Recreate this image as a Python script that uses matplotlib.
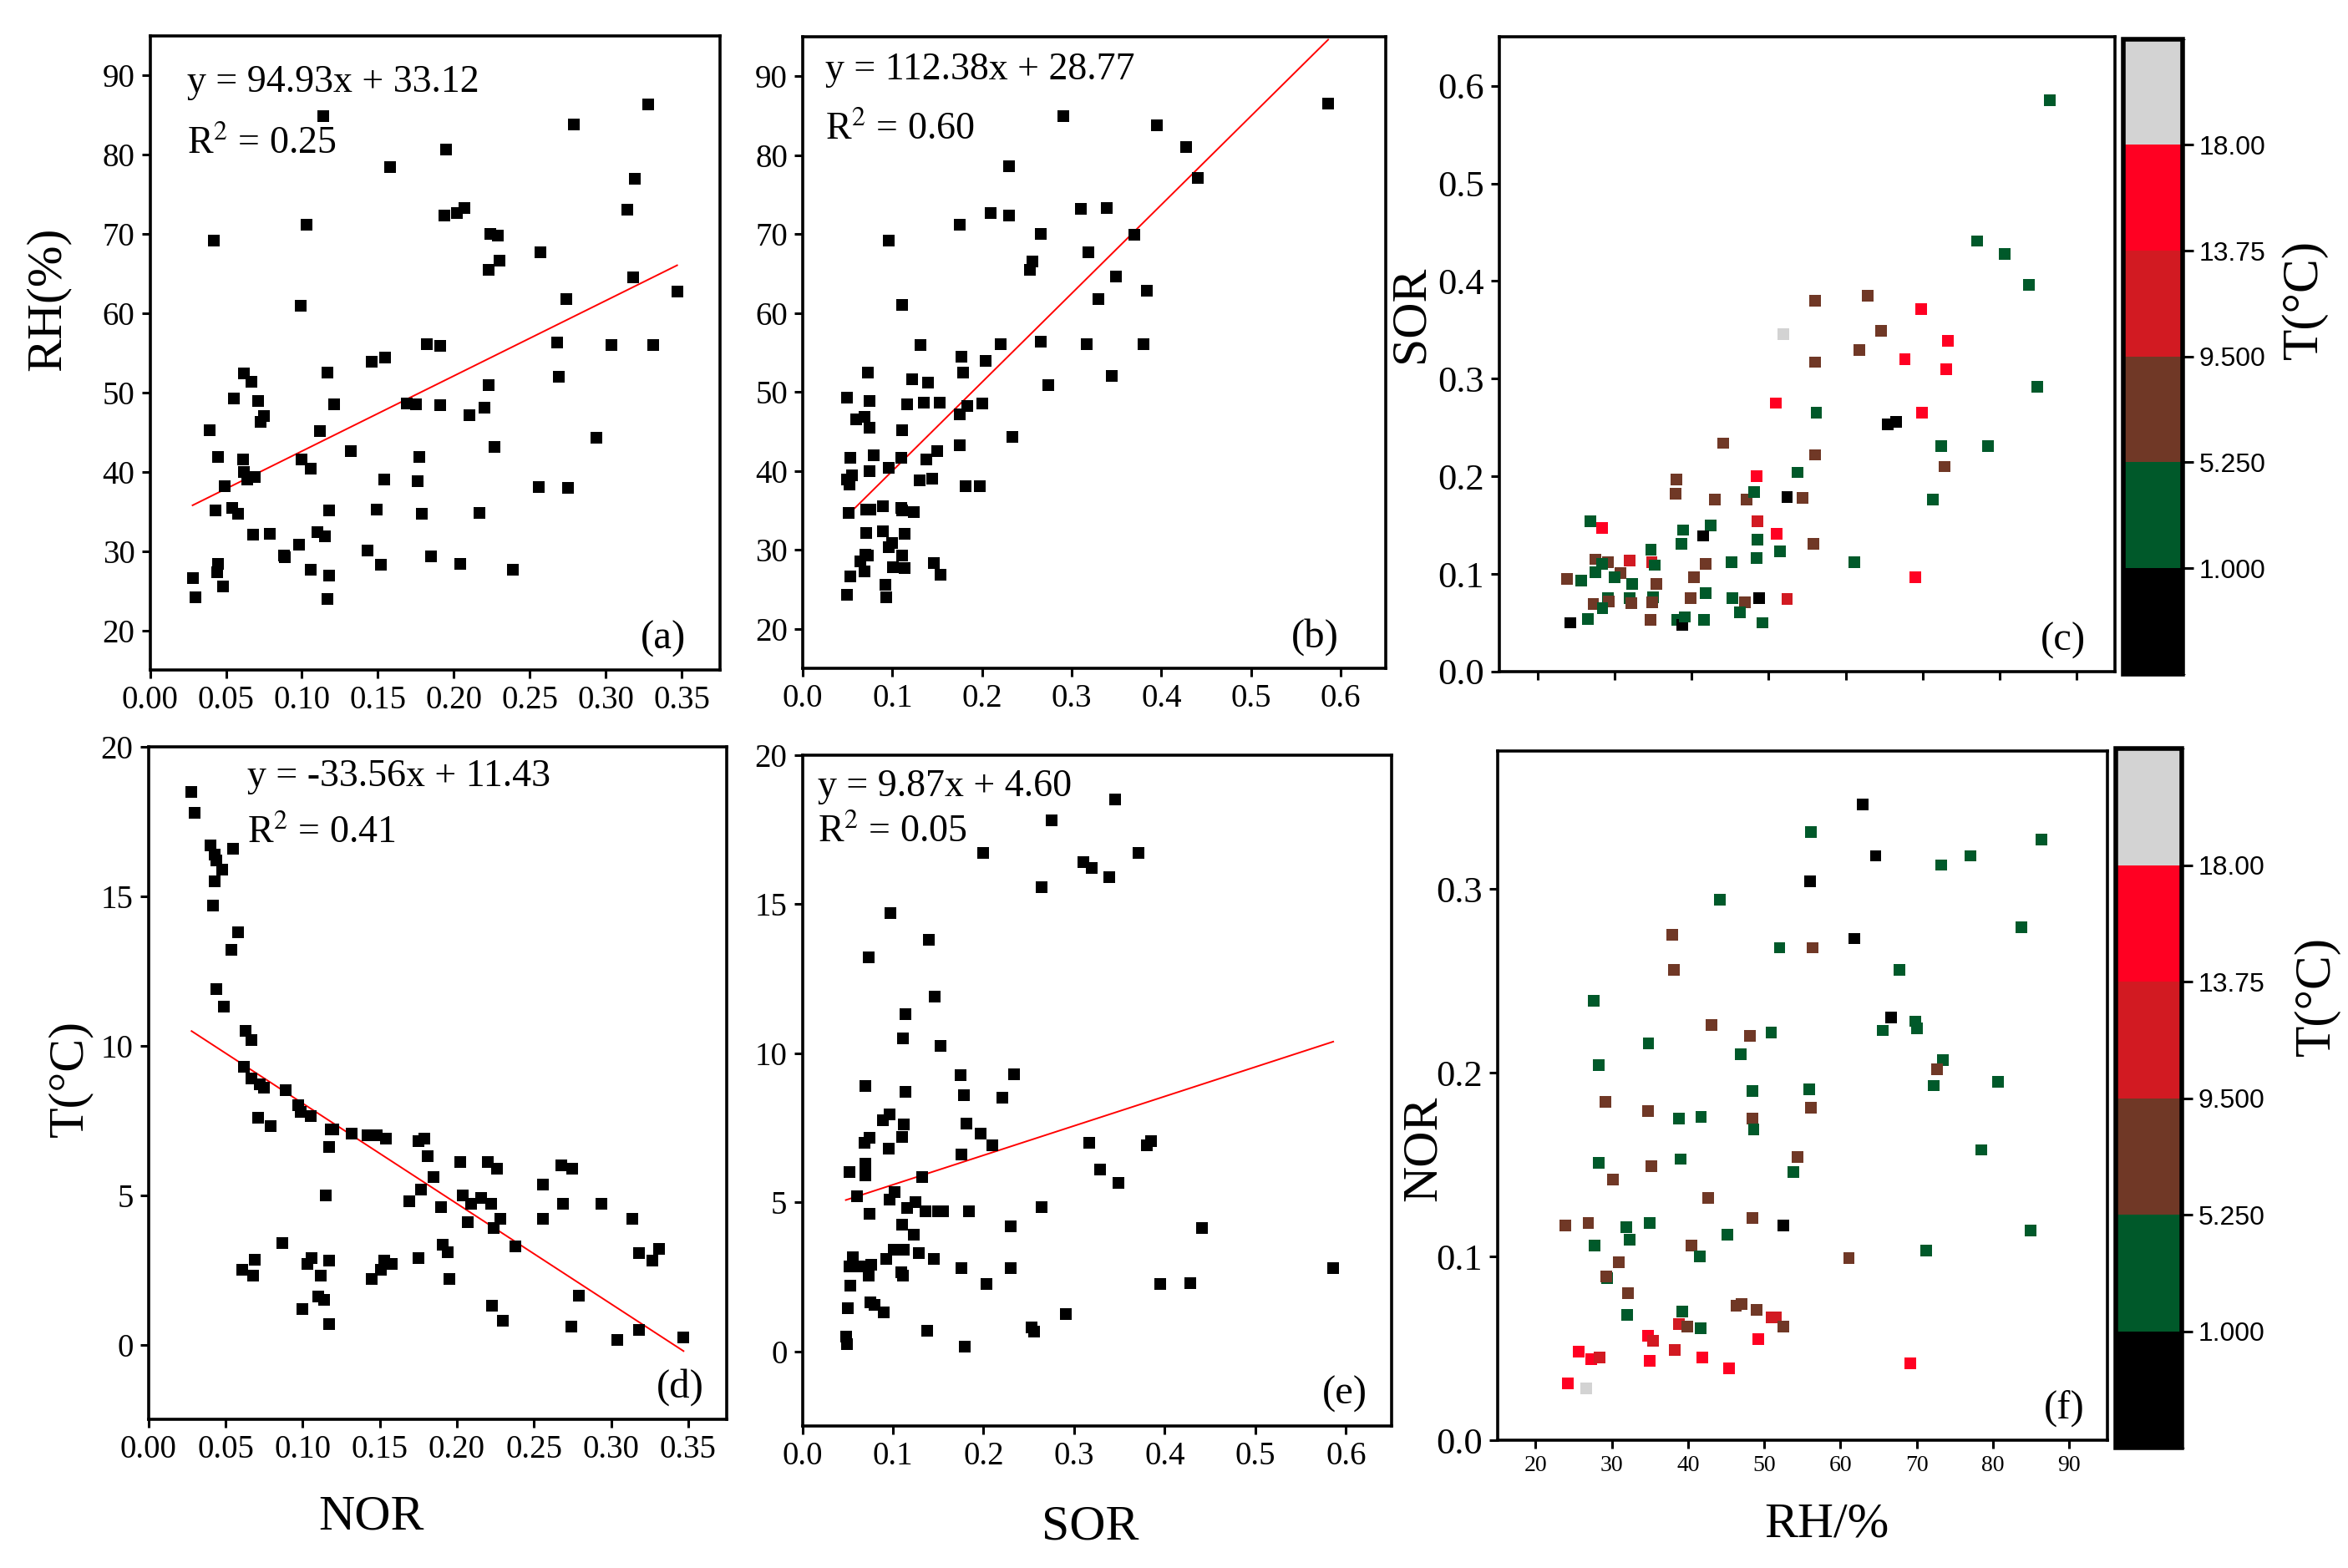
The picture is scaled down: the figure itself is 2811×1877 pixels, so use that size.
import matplotlib
matplotlib.use('Agg')
import matplotlib.pyplot as plt
import numpy as np
from matplotlib.colors import ListedColormap, BoundaryNorm
from matplotlib.cm import ScalarMappable

plt.rcParams['font.family'] = ['Liberation Serif', 'DejaVu Serif']
plt.rcParams['mathtext.fontset'] = 'stix'

# ---- panel (a): NOR vs RH
a_nor = [0.028, 0.030, 0.039, 0.042, 0.045, 0.043, 0.045, 0.044, 0.048, 0.049,
         0.055, 0.054, 0.058, 0.062, 0.067, 0.061, 0.062, 0.064, 0.069, 0.071,
         0.075, 0.073, 0.068, 0.079, 0.088, 0.089, 0.098, 0.099, 0.100, 0.103,
         0.106, 0.106, 0.112, 0.110, 0.114, 0.115, 0.117, 0.118, 0.118, 0.117,
         0.121, 0.132, 0.143, 0.146, 0.149, 0.152, 0.154, 0.155, 0.158, 0.169,
         0.175, 0.177, 0.176, 0.179, 0.182, 0.185, 0.191, 0.191, 0.194, 0.195,
         0.202, 0.207, 0.210, 0.204, 0.217, 0.220, 0.223, 0.223, 0.224, 0.229,
         0.230, 0.227, 0.239, 0.257, 0.256, 0.268, 0.269, 0.274, 0.275, 0.279,
         0.294, 0.304, 0.314, 0.319, 0.318, 0.328, 0.331, 0.347]
a_rh = [26.6, 24.2, 45.3, 69.2, 41.9, 35.1, 28.4, 27.3, 25.5, 38.2,
        49.3, 35.5, 34.7, 52.4, 51.4, 41.6, 40.0, 39.0, 39.3, 48.9,
        47.0, 46.3, 32.1, 32.2, 29.4, 29.2, 30.8, 61.0, 41.6, 71.2,
        40.4, 27.7, 45.1, 32.4, 84.9, 31.9, 52.5, 35.1, 26.9, 24.0,
        48.5, 42.6, 30.1, 53.9, 35.2, 28.3, 39.0, 54.4, 78.5, 48.6,
        48.5, 41.9, 38.8, 34.7, 56.1, 29.3, 55.9, 48.4, 72.3, 80.7,
        72.7, 73.3, 47.2, 28.4, 34.8, 48.1, 50.9, 65.5, 70.0, 69.8,
        66.6, 43.1, 27.6, 67.7, 38.1, 56.3, 52.0, 61.8, 38.0, 83.8,
        44.3, 56.0, 73.1, 77.0, 64.5, 86.4, 56.0, 62.8]
a_fit = (94.93, 33.12, 0.25)

# ---- panel (b): SOR vs RH
b_sor = [0.049, 0.049, 0.049, 0.052, 0.055, 0.051, 0.053, 0.053, 0.060, 0.069,
         0.074, 0.073, 0.074, 0.079, 0.074, 0.071, 0.075, 0.071, 0.064, 0.069,
         0.073, 0.070, 0.089, 0.089, 0.092, 0.093, 0.096, 0.100, 0.096, 0.096,
         0.101, 0.111, 0.110, 0.111, 0.110, 0.111, 0.111, 0.114, 0.114, 0.116,
         0.122, 0.124, 0.130, 0.131, 0.135, 0.140, 0.138, 0.144, 0.150, 0.153,
         0.146, 0.154, 0.175, 0.175, 0.177, 0.179, 0.183, 0.175, 0.182, 0.197,
         0.200, 0.204, 0.210, 0.221, 0.230, 0.230, 0.234, 0.253, 0.256, 0.265,
         0.265, 0.274, 0.291, 0.310, 0.319, 0.317, 0.330, 0.339, 0.345, 0.349,
         0.370, 0.380, 0.384, 0.395, 0.428, 0.441, 0.586]
b_rh = [49.3, 24.3, 38.9, 38.3, 39.4, 34.7, 41.7, 26.6, 46.5, 46.9,
        45.5, 52.5, 48.9, 42.0, 40.0, 35.1, 35.1, 32.1, 28.5, 27.3,
        29.3, 29.4, 35.5, 32.4, 25.6, 24.0, 30.3, 30.9, 69.2, 40.4,
        27.8, 61.0, 41.7, 45.2, 35.3, 35.0, 29.3, 27.7, 32.0, 48.4,
        51.6, 34.8, 38.8, 55.9, 48.6, 51.2, 41.5, 39.0, 42.5, 48.6,
        28.3, 26.9, 71.2, 47.2, 54.5, 52.5, 48.2, 43.2, 38.1, 38.1,
        48.5, 53.9, 72.7, 56.1, 78.6, 72.3, 44.3, 65.5, 66.5, 70.0,
        56.4, 50.9, 84.9, 73.2, 67.7, 56.1, 61.8, 73.3, 52.0, 64.6,
        69.9, 56.1, 62.8, 83.8, 81.0, 77.1, 86.5]
b_fit = (112.38, 28.77, 0.60)

# ---- panel (c): RH vs SOR coloured by T
c_rh = [86.5, 77.1, 80.7, 83.8, 84.9, 56.0, 62.9, 69.8, 51.9, 64.6,
        73.3, 61.8, 67.7, 56.0, 73.1, 50.9, 56.2, 69.9, 65.5, 66.6,
        72.4, 78.5, 44.1, 56.0, 72.9, 53.8, 38.0, 48.4, 37.9, 43.0,
        47.1, 48.1, 52.4, 54.4, 71.3, 26.8, 28.3, 48.5, 38.9, 42.5,
        41.5, 48.5, 51.0, 38.7, 55.8, 34.7, 51.5, 48.4, 61.1, 45.2,
        27.5, 29.1, 31.9, 34.8, 35.2, 41.8, 28.3, 27.5, 30.7, 23.8,
        25.6, 30.0, 40.3, 69.1, 32.3, 35.4, 29.1, 29.2, 27.2, 28.4,
        31.9, 32.1, 35.0, 34.9, 39.9, 41.8, 45.3, 46.9, 48.8, 52.4,
        46.3, 24.2, 26.5, 34.6, 38.1, 38.8, 39.1, 41.6, 49.2]
c_sor = [0.585, 0.441, 0.428, 0.396, 0.292, 0.380, 0.385, 0.371, 0.346, 0.349,
         0.339, 0.329, 0.320, 0.317, 0.310, 0.275, 0.265, 0.265, 0.253, 0.256,
         0.231, 0.231, 0.234, 0.222, 0.210, 0.204, 0.197, 0.200, 0.182, 0.176,
         0.176, 0.184, 0.179, 0.178, 0.176, 0.154, 0.147, 0.154, 0.145, 0.150,
         0.139, 0.135, 0.141, 0.131, 0.131, 0.125, 0.123, 0.116, 0.112, 0.112,
         0.115, 0.112, 0.114, 0.112, 0.109, 0.110, 0.110, 0.102, 0.101, 0.095,
         0.093, 0.097, 0.097, 0.097, 0.090, 0.090, 0.075, 0.072, 0.069, 0.065,
         0.075, 0.070, 0.076, 0.071, 0.075, 0.080, 0.075, 0.071, 0.075, 0.074,
         0.061, 0.050, 0.054, 0.053, 0.053, 0.048, 0.056, 0.053, 0.050]
c_t = [3, 3, 3, 3, 3, 7.5, 7.5, 16, 19.5, 7.5,
       16, 7.5, 16, 7.5, 16, 16, 3, 16, 0.5, 0.5,
       3, 3, 7.5, 7.5, 7.5, 3, 7.5, 16, 7.5, 7.5,
       7.5, 3, 0.5, 7.5, 3, 3, 16, 11.5, 3, 3,
       0.5, 3, 16, 3, 7.5, 3, 3, 3, 3, 3,
       7.5, 7.5, 11.5, 11.5, 3, 7.5, 3, 3, 7.5, 7.5,
       3, 3, 7.5, 16, 3, 7.5, 3, 7.5, 7.5, 3,
       3, 7.5, 3, 7.5, 7.5, 3, 3, 7.5, 0.5, 11.5,
       3, 0.5, 3, 7.5, 3, 0.5, 3, 3, 3]

# ---- panel (d): NOR vs T
d_nor = [0.028, 0.030, 0.040, 0.043, 0.044, 0.048, 0.043, 0.042, 0.055, 0.058,
         0.054, 0.044, 0.049, 0.063, 0.067, 0.062, 0.067, 0.072, 0.075, 0.089,
         0.071, 0.079, 0.097, 0.099, 0.105, 0.118, 0.120, 0.132, 0.142, 0.148,
         0.154, 0.117, 0.175, 0.179, 0.181, 0.185, 0.202, 0.220, 0.226, 0.115,
         0.177, 0.169, 0.190, 0.204, 0.209, 0.207, 0.216, 0.222, 0.228, 0.224,
         0.238, 0.256, 0.256, 0.268, 0.275, 0.269, 0.294, 0.314, 0.318, 0.331,
         0.327, 0.087, 0.061, 0.069, 0.068, 0.100, 0.103, 0.106, 0.112, 0.110,
         0.114, 0.117, 0.117, 0.145, 0.151, 0.153, 0.158, 0.175, 0.191, 0.194,
         0.195, 0.223, 0.230, 0.279, 0.274, 0.304, 0.318, 0.347]
d_t = [18.48, 17.8, 16.7, 16.4, 16.2, 15.9, 15.5, 14.7, 16.6, 13.8,
       13.2, 11.9, 11.3, 10.5, 10.2, 9.3, 8.9, 8.7, 8.6, 8.5,
       7.6, 7.3, 8.0, 7.8, 7.65, 7.2, 7.2, 7.05, 7.0, 7.0,
       6.9, 6.6, 6.8, 6.9, 6.3, 5.6, 6.1, 6.1, 5.9, 5.0,
       5.2, 4.8, 4.6, 5.0, 4.7, 4.1, 4.9, 4.7, 4.2, 3.9,
       3.3, 5.35, 4.2, 6.0, 5.9, 4.7, 4.7, 4.2, 3.05, 3.2,
       2.8, 3.4, 2.5, 2.85, 2.3, 1.2, 2.7, 2.9, 2.3, 1.6,
       1.5, 2.8, 0.7, 2.2, 2.5, 2.8, 2.7, 2.9, 3.35, 3.1,
       2.2, 1.3, 0.8, 1.65, 0.6, 0.15, 0.5, 0.25]
d_fit = (-33.56, 11.43, 0.41)

# ---- panel (e): SOR vs T
e_sor = [0.345, 0.275, 0.200, 0.371, 0.310, 0.319, 0.339, 0.264, 0.097, 0.140,
         0.073, 0.146, 0.114, 0.111, 0.153, 0.175, 0.234, 0.070, 0.114, 0.178,
         0.221, 0.089, 0.096, 0.112, 0.181, 0.197, 0.074, 0.110, 0.069, 0.210,
         0.317, 0.385, 0.380, 0.095, 0.070, 0.176, 0.070, 0.052, 0.329, 0.132,
         0.349, 0.060, 0.102, 0.096, 0.125, 0.264, 0.116, 0.136, 0.150, 0.155,
         0.184, 0.074, 0.110, 0.230, 0.441, 0.123, 0.101, 0.112, 0.129, 0.093,
         0.145, 0.056, 0.052, 0.064, 0.076, 0.073, 0.109, 0.111, 0.176, 0.230,
         0.586, 0.053, 0.203, 0.395, 0.428, 0.075, 0.080, 0.090, 0.050, 0.291,
         0.138, 0.253, 0.256, 0.048, 0.049, 0.179]
e_t = [18.5, 17.8, 16.7, 16.7, 16.4, 16.2, 15.9, 15.55, 14.7, 13.8,
       13.2, 11.9, 11.3, 10.5, 10.25, 9.25, 9.3, 8.9, 8.7, 8.6,
       8.5, 7.75, 7.95, 7.6, 7.65, 7.3, 7.15, 7.2, 7.0, 6.9,
       7.0, 7.05, 6.9, 6.8, 6.3, 6.6, 5.9, 6.0, 6.1, 5.85,
       5.65, 5.2, 5.35, 5.1, 5.0, 4.85, 4.8, 4.7, 4.7, 4.7,
       4.7, 4.6, 4.25, 4.2, 4.15, 3.9, 3.4, 3.4, 3.3, 3.1,
       3.1, 3.15, 2.85, 2.85, 2.9, 2.55, 2.65, 2.55, 2.8, 2.8,
       2.8, 2.2, 2.25, 2.25, 2.3, 1.65, 1.55, 1.3, 1.45, 1.25,
       0.7, 0.8, 0.65, 0.5, 0.25, 0.15]
e_fit = (9.87, 4.60, 0.05)

# ---- panel (f): RH vs NOR coloured by T
f_rh = [62.9, 56.1, 86.4, 64.6, 77.0, 73.2, 56.0, 44.2, 83.7, 37.9,
        61.8, 52.0, 56.3, 38.1, 67.7, 27.6, 66.6, 69.8, 70.0, 43.1,
        48.1, 50.9, 65.5, 34.8, 46.9, 73.4, 72.7, 28.3, 72.2, 80.7,
        48.4, 55.9, 29.2, 56.1, 34.7, 38.8, 41.7, 48.4, 48.6, 78.5,
        54.4, 39.0, 28.3, 53.8, 35.2, 30.1, 42.6, 48.4, 23.9, 26.9,
        31.9, 35.0, 52.5, 32.3, 84.9, 45.2, 27.7, 40.4, 71.2, 30.9,
        41.5, 61.1, 29.4, 29.3, 32.1, 32.0, 39.2, 46.3, 47.0, 49.0,
        38.8, 39.9, 41.6, 51.0, 51.5, 52.5, 34.7, 35.4, 49.2, 25.6,
        38.2, 27.3, 28.4, 35.0, 41.9, 45.4, 69.2, 24.2, 26.6]
f_nor = [0.346, 0.331, 0.327, 0.318, 0.318, 0.313, 0.304, 0.294, 0.279, 0.275,
         0.273, 0.268, 0.268, 0.256, 0.256, 0.239, 0.230, 0.228, 0.224, 0.226,
         0.220, 0.222, 0.223, 0.216, 0.210, 0.207, 0.202, 0.204, 0.193, 0.195,
         0.190, 0.191, 0.184, 0.181, 0.179, 0.175, 0.176, 0.175, 0.169, 0.158,
         0.154, 0.153, 0.151, 0.146, 0.149, 0.142, 0.132, 0.121, 0.117, 0.118,
         0.116, 0.118, 0.117, 0.109, 0.114, 0.112, 0.106, 0.106, 0.103, 0.097,
         0.100, 0.099, 0.088, 0.089, 0.080, 0.068, 0.070, 0.073, 0.074, 0.071,
         0.063, 0.062, 0.061, 0.067, 0.067, 0.062, 0.057, 0.054, 0.055, 0.048,
         0.049, 0.044, 0.045, 0.043, 0.045, 0.039, 0.042, 0.031, 0.028]
f_t = [0.5, 3, 3, 0.5, 3, 3, 0.5, 3, 3, 7.5,
       0.5, 3, 7.5, 7.5, 3, 3, 0.5, 3, 3, 7.5,
       7.5, 3, 3, 3, 3, 3, 7.5, 3, 3, 3,
       3, 3, 7.5, 7.5, 7.5, 3, 3, 7.5, 3, 3,
       7.5, 3, 3, 3, 7.5, 7.5, 7.5, 7.5, 7.5, 7.5,
       3, 3, 0.5, 3, 3, 3, 3, 7.5, 3, 7.5,
       3, 7.5, 3, 7.5, 7.5, 3, 3, 7.5, 7.5, 7.5,
       11.5, 7.5, 3, 11.5, 11.5, 7.5, 16, 11.5, 16, 16,
       11.5, 16, 11.5, 16, 16, 16, 16, 16, 19.5]

# T colour classes
t_bounds = [-3.25, 1.0, 5.25, 9.5, 13.75, 18.0, 22.25]
t_ticks = [1.0, 5.25, 9.5, 13.75, 18.0]
t_ticklabels = ['1.000', '5.250', '9.500', '13.75', '18.00']
t_colors = ['#000000', '#00592a', '#703826', '#d21a22', '#ff0022', '#d3d3d3']
cmap = ListedColormap(t_colors)
norm = BoundaryNorm(t_bounds, cmap.N)

fig = plt.figure(figsize=(28.11, 18.77), dpi=100)

TICK = 28
LAB = 43
TXT = 33
TAG = 35


def style(ax, tsize=TICK):
    for s in ax.spines.values():
        s.set_linewidth(2.6)
    ax.tick_params(direction='out', length=7, width=2.2, labelsize=tsize, pad=6,
                   top=False, right=False)


def fit_panel(ax, x, y, fit, eqpos, r2pos, tag, tagx):
    ax.scatter(x, y, marker='s', s=105, c='black', linewidths=0, zorder=3)
    k, b, r2 = fit
    xl = np.array([min(x), max(x)])
    ax.plot(xl, k * xl + b, color='red', lw=1.4, zorder=2)
    sign = '+' if b >= 0 else '-'
    ax.text(eqpos[0], eqpos[1], 'y = %.2fx %s %.2f' % (k, sign, abs(b)),
            transform=ax.transAxes, fontsize=TXT, va='center', ha='left')
    ax.text(r2pos[0], r2pos[1], 'R$^{2}$ = %.2f' % r2,
            transform=ax.transAxes, fontsize=TXT, va='center', ha='left')
    ax.text(tagx, 0.02, tag, transform=ax.transAxes, fontsize=TAG,
            ha='right', va='bottom')
    style(ax)


def add_cbar(cax, label, ly):
    sm = ScalarMappable(norm=norm, cmap=cmap)
    cb = fig.colorbar(sm, cax=cax, ticks=t_ticks)
    cb.ax.set_yticklabels(t_ticklabels, family='Liberation Sans')
    cb.outline.set_linewidth(4)
    cb.ax.tick_params(labelsize=23, length=9, width=2.2, pad=5)
    cb.ax.text(3.05, ly, label, transform=cb.ax.transAxes, rotation=90,
               fontsize=44, ha='center', va='center')


# (a)
ax = fig.add_axes([0.0639, 0.5727, 0.2426, 0.4044])
fit_panel(ax, a_nor, a_rh, a_fit, (0.065, 0.927), (0.065, 0.83), '(a)', 0.94)
ax.set_xlim(0, 0.375)
ax.set_ylim(15, 95)
ax.set_xticks(np.arange(0, 0.351, 0.05))
ax.set_xticklabels(['%.2f' % v for v in np.arange(0, 0.351, 0.05)])
ax.set_yticks(range(20, 91, 10))
ax.set_ylabel('RH(%)', fontsize=LAB)
ax.yaxis.set_label_coords(-0.14, 0.585)

# (b)
ax = fig.add_axes([0.3419, 0.5738, 0.2482, 0.4028])
fit_panel(ax, b_sor, b_rh, b_fit, (0.038, 0.947), (0.038, 0.852), '(b)', 0.92)
ax.set_xlim(0, 0.65)
ax.set_ylim(15, 95)
ax.set_xticks(np.arange(0, 0.61, 0.1))
ax.set_xticklabels(['%.1f' % v for v in np.arange(0, 0.61, 0.1)])
ax.set_yticks(range(20, 91, 10))

# (c)
ax = fig.add_axes([0.6386, 0.5717, 0.2621, 0.4047])
ax.scatter(c_rh, c_sor, c=c_t, cmap=cmap, norm=norm, marker='s', s=100,
           linewidths=0, zorder=3)
ax.set_xlim(15, 95)
ax.set_ylim(0, 0.65)
ax.set_xticks(range(20, 91, 10))
ax.set_xticklabels([])
ax.set_yticks(np.arange(0, 0.61, 0.1))
ax.set_yticklabels(['%.1f' % v for v in np.arange(0, 0.61, 0.1)])
style(ax, 32)
ax.set_ylabel('SOR', fontsize=LAB)
ax.yaxis.set_label_coords(-0.107, 0.563)
ax.text(0.953, 0.02, '(c)', transform=ax.transAxes, fontsize=TAG,
        ha='right', va='bottom')
cax = fig.add_axes([0.9042, 0.5701, 0.0254, 0.4051])
add_cbar(cax, 'T(°C)', 0.59)

# (d)
ax = fig.add_axes([0.0632, 0.0948, 0.2463, 0.4289])
fit_panel(ax, d_nor, d_t, d_fit, (0.171, 0.955), (0.171, 0.872), '(d)', 0.96)
ax.set_xlim(0, 0.375)
ax.set_ylim(-2.5, 20)
ax.set_xticks(np.arange(0, 0.351, 0.05))
ax.set_xticklabels(['%.2f' % v for v in np.arange(0, 0.351, 0.05)])
ax.set_yticks(range(0, 21, 5))
ax.set_ylabel('T(°C)', fontsize=LAB)
ax.yaxis.set_label_coords(-0.096, 0.507)
ax.set_xlabel('NOR', fontsize=LAB)
ax.xaxis.set_label_coords(0.386, -0.112)

# (e)
ax = fig.add_axes([0.3417, 0.0906, 0.2508, 0.428])
fit_panel(ax, e_sor, e_t, e_fit, (0.026, 0.953), (0.026, 0.884), '(e)', 0.96)
ax.set_xlim(0, 0.65)
ax.set_ylim(-2.5, 20)
ax.set_xticks(np.arange(0, 0.61, 0.1))
ax.set_xticklabels(['%.1f' % v for v in np.arange(0, 0.61, 0.1)])
ax.set_yticks(range(0, 21, 5))
ax.set_xlabel('SOR', fontsize=LAB)
ax.xaxis.set_label_coords(0.489, -0.118)

# (f)
ax = fig.add_axes([0.6378, 0.0815, 0.2597, 0.4395])
ax.scatter(f_rh, f_nor, c=f_t, cmap=cmap, norm=norm, marker='s', s=100,
           linewidths=0, zorder=3)
ax.set_xlim(15, 95)
ax.set_ylim(0, 0.375)
ax.set_xticks(range(20, 91, 10))
ax.set_yticks(np.arange(0, 0.31, 0.1))
ax.set_yticklabels(['%.1f' % v for v in np.arange(0, 0.31, 0.1)])
style(ax, 32)
ax.tick_params(axis='x', labelsize=20)
ax.set_ylabel('NOR', fontsize=LAB)
ax.yaxis.set_label_coords(-0.084, 0.423)
ax.set_xlabel('RH/%', fontsize=LAB)
ax.xaxis.set_label_coords(0.54, -0.09)
ax.text(0.962, 0.02, '(f)', transform=ax.transAxes, fontsize=TAG,
        ha='right', va='bottom')
cax = fig.add_axes([0.9011, 0.0767, 0.0281, 0.4459])
add_cbar(cax, 'T(°C)', 0.646)

fig.savefig('out.png', dpi=100)
